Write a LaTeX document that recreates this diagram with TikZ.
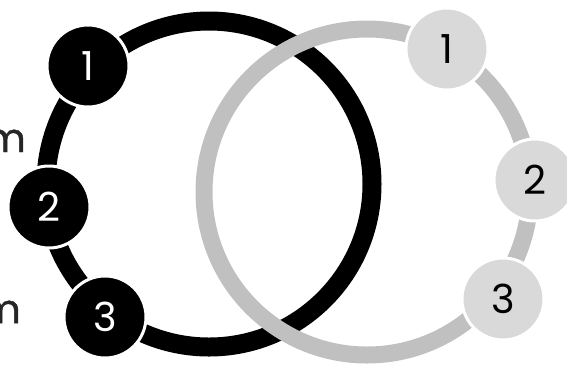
\documentclass[tikz,border=0pt]{standalone}
\usepackage{fontspec}
\setmainfont{Poppins}
\newfontfamily\labelfont[FakeBold=1.2]{Poppins}
\definecolor{ringgray}{RGB}{192,192,192}
\definecolor{nodegray}{RGB}{217,217,217}
\begin{document}
\begin{tikzpicture}[x=1pt,y=-1pt,
  numnode/.style={circle, draw=white, line width=3pt, minimum size=82pt, inner sep=0pt, font=\fontsize{40}{40}\selectfont},
  blacknode/.style={numnode, fill=black, text=white},
  graynode/.style={numnode, fill=nodegray, text=black},
  lbl/.style={font=\labelfont\fontsize{40}{40}\selectfont, inner sep=0pt, text=black!85}]
\useasboundingbox (0,0) rectangle (567,368);
\clip (0,0) rectangle (567,368);
\coordinate (cb) at (209,184);
\coordinate (cg) at (367,192);
\draw[black, line width=19pt] (cb) circle[radius=163pt];
\draw[ringgray, line width=17pt] (cg) circle[radius=163pt];
\node[blacknode] (b1) at (88,66) {1};
\node[blacknode] (b2) at (49,207) {2};
\node[blacknode] (b3) at (105,317) {3};
\node[graynode] (g1) at (447,49) {1};
\node[graynode] (g2) at (535,180) {2};
\node[graynode] (g3) at (503,299) {3};
\node[lbl, anchor=base east] (m1) at (26,152) {m};
\node[lbl, anchor=base east] (m2) at (21,323) {m};
\end{tikzpicture}
\end{document}
